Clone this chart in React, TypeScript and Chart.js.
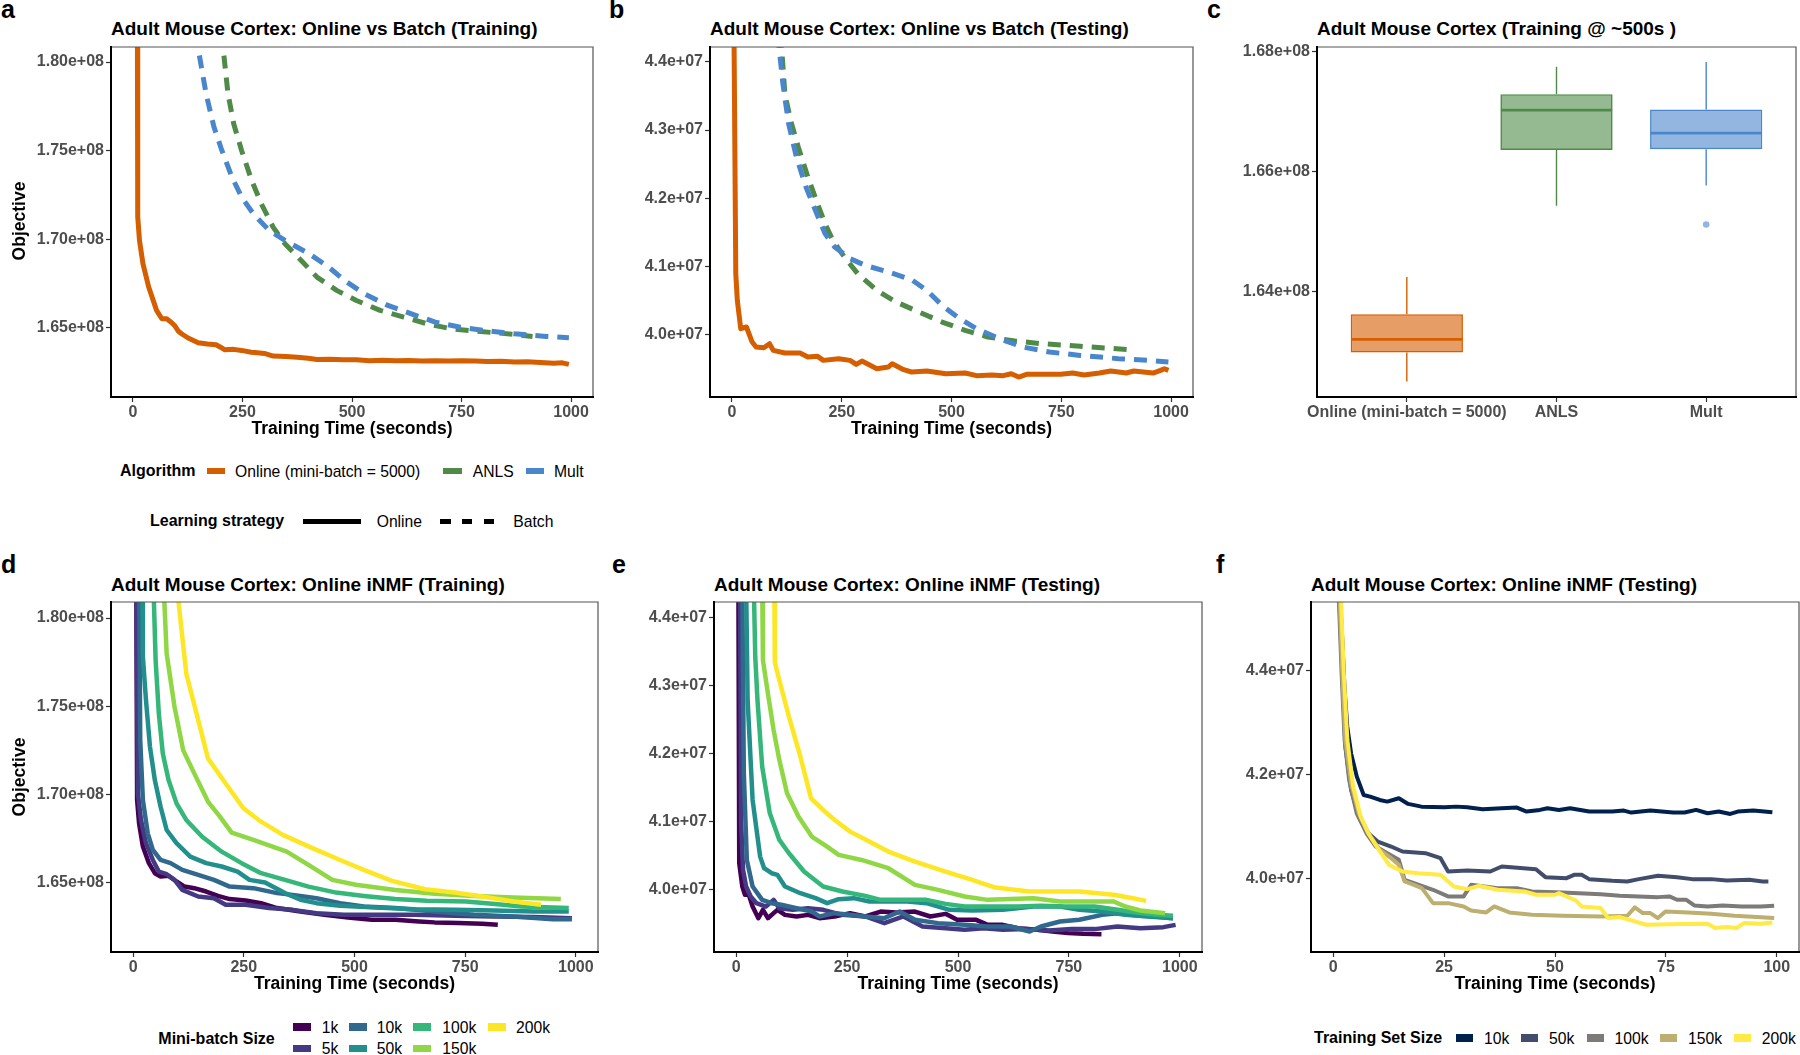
import React, { useEffect, useRef } from "react";
import { Chart, registerables } from "chart.js";
Chart.register(...registerables);

const FONT = '"Liberation Sans", Arial, Helvetica, sans-serif';

// ---------- values (objective in millions) ----------
// Panel a: Online vs Batch (Training)
const A_ONLINE = [[9,230],[10,185],[11,171.25],[15,169.93],[23,168.61],[36,167.30],[54,165.98],[66,165.51],[77,165.51],[88,165.30],[95,165.13],[104,164.80],[111,164.66],[126,164.42],[149,164.15],[170,164.08],[190,164.04],[200,163.90],[209,163.76],[230,163.78],[248,163.72],[270,163.62],[284,163.59],[300,163.55],[320,163.40],[350,163.38],[375,163.34],[400,163.28],[420,163.21],[450,163.22],[480,163.20],[510,163.19],[540,163.14],[570,163.16],[600,163.14],[630,163.15],[660,163.12],[690,163.13],[720,163.12],[750,163.14],[781,163.12],[810,163.10],[840,163.11],[871,163.06],[900,163.08],[930,163.04],[961,163.00],[980,163.02],[995,162.93]];
const A_ANLS = [[203,181.6],[206,180.75],[217,178.21],[230,176.52],[248,175.01],[271,173.32],[293,172.0],[320,170.68],[347,169.74],[384,168.8],[420,167.86],[465,167.11],[510,166.54],[564,165.98],[618,165.6],[672,165.22],[727,164.94],[781,164.81],[835,164.7],[871,164.62],[912,164.51]];
const A_MULT = [[144,181.6],[149,180.75],[167,178.21],[185,176.33],[203,175.01],[226,173.51],[248,172.38],[275,171.43],[311,170.49],[347,169.93],[402,169.18],[447,168.42],[483,167.67],[528,166.92],[582,166.26],[645,165.70],[690,165.32],[745,165.04],[799,164.85],[871,164.66],[943,164.51],[995,164.44]];

// Panel b: Online vs Batch (Testing)
const B_ONLINE = [[4,45],[8.7,40.891],[12.2,40.5],[20,40.083],[33,40.108],[46,39.887],[55,39.814],[72.5,39.804],[85.6,39.863],[94,39.765],[120.5,39.726],[155,39.726],[173,39.667],[195,39.677],[208,39.618],[243,39.643],[269,39.618],[283,39.559],[296,39.608],[330,39.496],[356,39.52],[365,39.569],[391,39.481],[409,39.447],[444,39.462],[487,39.422],[531,39.432],[557,39.393],[592,39.403],[618,39.393],[636,39.422],[653,39.373],[671,39.413],[706,39.413],[749,39.413],[776,39.432],[802,39.403],[837,39.432],[863,39.462],[898,39.432],[915,39.462],[959,39.432],[976,39.471],[985,39.496],[994,39.471]];
const B_ANLS = [[110,44.4],[113.5,44.17],[120.5,43.535],[133.6,43.143],[151,42.752],[172.9,42.311],[194.8,41.92],[212,41.626],[229.7,41.38],[256,41.136],[286.5,40.891],[330,40.646],[374,40.475],[426,40.328],[478.6,40.181],[531,40.059],[583,39.96],[644.5,39.902],[705.7,39.863],[793,39.824],[906.5,39.775]];
const B_MULT = [[105,44.4],[108,44.17],[116,43.68],[129,43.094],[146.7,42.605],[168.6,42.164],[190,41.821],[212,41.479],[234,41.283],[269,41.111],[304,41.013],[356,40.916],[409,40.803],[443.7,40.646],[478.6,40.426],[513.5,40.254],[557,40.083],[609.6,39.936],[662,39.814],[723,39.74],[793,39.691],[880,39.643],[950,39.618],[994,39.594]];

// Panel c: box plots at ~500 s
const C_GROUPS = ["Online (mini-batch = 5000)", "ANLS", "Mult"];
const C_MIN = [162.489, 165.426, 165.766];
const C_Q1 = [162.974, 166.36, 166.372];
const C_MED = [163.192, 167.024, 166.639];
const C_Q3 = [163.615, 167.292, 167.036];
const C_MAX = [164.234, 167.749, 167.828];
const C_OUTLIERS = [[3, 165.113]];

// Panel d: Online iNMF (Training) by mini-batch size
const D_1K = [[7,183],[9,169.68],[13.4,168.36],[22,167.04],[35.6,166.1],[49,165.53],[62,165.34],[80,165.38],[98,165.06],[116,164.77],[138,164.68],[165,164.49],[191.5,164.24],[218,164.06],[254,163.98],[289,163.83],[325,163.55],[378,163.36],[432,163.17],[485,163.02],[539,162.89],[592,162.89],[645.6,162.79],[681,162.74],[735,162.7],[788,162.66],[823.7,162.6]];
const D_5K = [[7,183],[10.7,170.06],[17.8,168.55],[29,167.23],[44.5,166.28],[58,165.62],[75.7,165.47],[93.5,165.15],[111,164.58],[147,164.21],[182.5,164.11],[209,163.74],[254,163.74],[307,163.55],[360.6,163.45],[414,163.26],[476,163.17],[547.6,163.17],[636.7,163.17],[725.7,163.11],[814.8,163.08],[905,163.04],[991,162.98]];
const D_10K = [[13.4,183],[16,173.08],[22,169.68],[33,167.79],[44.5,166.85],[62,166.28],[84.6,166.1],[111,165.72],[147,165.43],[182.5,165.15],[218,164.77],[271.6,164.68],[325,164.4],[360.6,164.3],[414,164.11],[467.5,163.83],[521,163.64],[592,163.55],[681,163.36],[770,163.17],[859,163.08],[948,162.92],[991,162.92]];
const D_50K = [[20.5,183],[22,177.79],[29,175.34],[38,172.7],[49,170.81],[62,169.3],[75.7,167.98],[98,167.23],[129,166.47],[165,166.1],[200,165.91],[236,165.62],[262.7,165.15],[298,165.0],[343,164.4],[378,164.02],[414,163.83],[467.5,163.68],[547.6,163.59],[636.7,163.49],[725.7,163.45],[814.8,163.42],[905,163.36],[984,163.36]];
const D_100K = [[44.5,183],[50.8,177.6],[58,174.58],[67,172.32],[80,170.81],[98,169.49],[120,168.55],[156,167.6],[200,166.75],[245,166.1],[289,165.53],[343,165.15],[396,164.77],[458.6,164.43],[521,164.24],[592,164.06],[663,163.96],[752,163.92],[824,163.77],[877,163.64],[984,163.55]];
const D_150K = [[66.8,183],[75.7,177.98],[93.5,174.96],[113,172.51],[138,171.19],[169,169.59],[196,168.74],[222.6,167.83],[271.6,167.42],[347,166.75],[396,166.0],[450,165.15],[503,164.87],[592,164.58],[681,164.36],[770,164.24],[859,164.15],[966,164.06]];
const D_200K = [[93.5,183],[120,176.85],[147,174.21],[169,172.04],[209,170.62],[249,169.21],[289,168.45],[338,167.7],[414,166.85],[467.5,166.28],[521,165.72],[583,165.11],[659,164.62],[726,164.43],[788,164.21],[859,163.92],[921.5,163.74]];

// Panel e: Online iNMF (Testing) by mini-batch size
const E_1K = [[5,44.5],[6.9,40.387],[13.8,40.044],[19.8,39.922],[28.4,39.922],[37,39.75],[50,39.578],[60.3,39.701],[71.5,39.578],[84.4,39.652],[93,39.701],[110,39.627],[136,39.603],[162,39.627],[187.8,39.578],[222,39.603],[256.7,39.652],[291,39.603],[325.6,39.676],[360,39.662],[403,39.676],[437.6,39.603],[472,39.642],[498,39.554],[541,39.554],[567,39.48],[601,39.48],[635.7,39.431],[678.7,39.407],[713,39.382],[747.6,39.358],[782,39.348],[823.4,39.343]];
const E_5K = [[8.6,44.5],[11.2,40.975],[15.5,40.29],[22.4,40.044],[32.7,39.897],[45.6,39.799],[67,39.75],[84.4,39.848],[97,39.725],[127.5,39.701],[162,39.725],[196,39.701],[239.4,39.627],[291,39.603],[334,39.505],[377,39.603],[420,39.456],[472,39.431],[515,39.407],[558,39.431],[601,39.407],[653,39.417],[704.6,39.397],[756,39.417],[808,39.417],[859.6,39.456],[911,39.431],[963,39.446],[990.5,39.48]];
const E_10K = [[13.8,44.5],[17.2,41.711],[24,40.436],[37,40.044],[58.6,39.848],[80,39.799],[101.6,39.775],[136,39.725],[170.5,39.676],[187.8,39.603],[222,39.652],[256.7,39.627],[291,39.603],[334,39.578],[368.7,39.676],[403,39.554],[454.8,39.505],[515,39.48],[567,39.456],[618,39.456],[661.5,39.382],[687,39.456],[730,39.529],[773.5,39.554],[825,39.627],[859.6,39.652],[911,39.613],[946,39.603],[984.5,39.578]];
const E_50K = [[22.4,44.5],[25.8,42.789],[37,41.319],[54,40.485],[63,40.314],[80,40.24],[93,40.216],[110,40.044],[144.7,39.946],[179,39.873],[205,39.799],[231,39.858],[265,39.873],[300,39.824],[343,39.824],[386,39.824],[429,39.799],[480.6,39.701],[532,39.691],[601,39.701],[670,39.75],[730,39.75],[773.5,39.701],[825,39.676],[877,39.627],[928.5,39.603],[984.5,39.578]];
const E_100K = [[39.6,44.5],[43,43.426],[48,42.789],[58.6,41.809],[75.8,41.123],[97.3,40.731],[119,40.535],[153,40.265],[196,40.044],[239.4,39.971],[291,39.907],[325.6,39.848],[377,39.848],[429,39.848],[472,39.789],[515,39.75],[567,39.75],[635.7,39.75],[687,39.76],[739,39.75],[808,39.75],[859.6,39.701],[902.7,39.662],[946,39.627],[984.5,39.613]];
const E_150K = [[58.6,44.5],[60.3,43.377],[71.5,42.887],[84.4,42.348],[97.3,41.907],[114.6,41.417],[140.4,41.074],[170.5,40.78],[205,40.633],[231,40.51],[282.5,40.436],[343,40.314],[403,40.069],[455,39.995],[515,39.897],[567,39.848],[670,39.873],[730,39.824],[816.5,39.824],[851,39.824],[877,39.75],[911,39.691],[967,39.652]];
const E_200K = [[86,44.5],[87,43.353],[97.3,43.083],[119,42.544],[144.7,41.956],[168.8,41.343],[196,41.172],[222,41.025],[256.7,40.853],[300,40.706],[343,40.559],[403,40.412],[472,40.265],[532,40.142],[584,40.029],[661.5,39.971],[773.5,39.971],[851,39.922],[894,39.873],[924,39.833]];

// Panel f: Online iNMF (Testing) by training set size
const F_10K = [[1.46,45.53],[2.06,44.57],[2.58,43.617],[3.18,42.916],[4.04,42.405],[5.33,41.959],[6.87,41.608],[8.33,41.576],[10.5,41.512],[12.2,41.48],[14.8,41.544],[16.9,41.436],[19.9,41.384],[25.1,41.372],[27.7,41.384],[30.2,41.372],[33.7,41.333],[37.97,41.352],[41.4,41.365],[43.6,41.289],[46.6,41.321],[48.3,41.352],[50.9,41.321],[53.4,41.352],[57.7,41.289],[62.9,41.289],[65.5,41.308],[67.2,41.27],[71.5,41.308],[76.6,41.27],[79.2,41.27],[81.8,41.321],[84.4,41.257],[86.9,41.289],[89.5,41.244],[91.2,41.289],[94.7,41.308],[99,41.276]];
const F_50K = [[1.3,45.53],[2.06,43.936],[2.75,42.533],[4.04,41.703],[5.76,41.193],[7.9,40.874],[10.05,40.715],[13.06,40.619],[15.6,40.523],[20.8,40.491],[24.2,40.396],[25.9,40.14],[30.2,40.159],[35.4,40.14],[38,40.236],[45.7,40.185],[47.85,40.032],[52.6,40.013],[54.3,40.077],[56,40.077],[57.7,39.994],[62.9,39.962],[66.3,39.949],[68.9,39.994],[73.2,40.057],[77.5,40.032],[80.9,39.994],[85.2,39.994],[88.7,39.968],[93.8,39.981],[96.8,39.949],[98.1,39.949]];
const F_100K = [[1.2,45.53],[1.9,43.936],[2.58,42.66],[3.6,41.895],[5.3,41.257],[7.5,40.874],[9.6,40.619],[12.2,40.491],[14.8,40.364],[16.1,39.981],[18.2,39.917],[22.5,39.79],[25.9,39.662],[29.4,39.662],[31.1,39.885],[37.1,39.821],[41.4,39.821],[44.8,39.758],[51.7,39.738],[60.3,39.706],[64.6,39.675],[73.2,39.649],[75.8,39.662],[77.5,39.598],[79.6,39.598],[81.4,39.49],[84.4,39.47],[87.8,39.49],[92.1,39.47],[96.4,39.47],[99.4,39.483]];
const F_150K = [[1.4,45.53],[2.06,43.936],[2.75,42.66],[4.04,41.831],[5.76,41.257],[7.9,40.874],[10.5,40.555],[13.06,40.396],[14.8,40.268],[16.1,39.949],[18.2,39.885],[20,39.821],[22.5,39.534],[25.9,39.534],[29.4,39.47],[31.1,39.394],[34.5,39.356],[36.3,39.47],[39.7,39.356],[44.8,39.311],[51.7,39.292],[60.3,39.279],[66.3,39.292],[68,39.451],[69.8,39.343],[71.5,39.343],[73.2,39.247],[74.9,39.375],[80,39.356],[85.2,39.33],[90.4,39.292],[95.5,39.266],[99.4,39.247]];
const F_200K = [[1.7,45.53],[2.4,43.936],[3.2,42.66],[4.5,41.767],[6.2,41.193],[7.9,40.874],[10.05,40.587],[12.6,40.268],[15.6,40.14],[19.1,40.108],[24.2,40.077],[27.2,39.853],[30.2,39.802],[32.8,39.866],[37.1,39.79],[43.1,39.758],[45.7,39.694],[50,39.694],[50.9,39.726],[54.7,39.585],[56,39.47],[60.3,39.439],[62,39.247],[64.6,39.266],[67.2,39.202],[70.6,39.12],[78.4,39.132],[84.4,39.139],[86.1,39.056],[88.7,39.075],[90.9,39.056],[92.6,39.151],[96.4,39.139],[99,39.164]];

// ---------- ticks ----------
const X_TICKS_1000 = [0, 250, 500, 750, 1000];
const X_LABELS_1000 = ["0", "250", "500", "750", "1000"];
const X_TICKS_100 = [0, 25, 50, 75, 100];
const X_LABELS_100 = ["0", "25", "50", "75", "100"];
const Y_TICKS_TRAIN = [165, 170, 175, 180];
const Y_LABELS_TRAIN = ["1.65e+08", "1.70e+08", "1.75e+08", "1.80e+08"];
const Y_TICKS_TEST = [40, 41, 42, 43, 44];
const Y_LABELS_TEST = ["4.0e+07", "4.1e+07", "4.2e+07", "4.3e+07", "4.4e+07"];
const Y_TICKS_BOX = [164, 166, 168];
const Y_LABELS_BOX = ["1.64e+08", "1.66e+08", "1.68e+08"];
const Y_TICKS_F = [40, 42, 44];
const Y_LABELS_F = ["4.0e+07", "4.2e+07", "4.4e+07"];

// ---------- legend entries & colours ----------
const ALGORITHMS = ["Online (mini-batch = 5000)", "ANLS", "Mult"];
const ALGO_COLORS = ["#D55E00", "#4F8A48", "#4A86CC"];
const ALGO_FILLS = ["rgba(213,94,0,0.6)", "rgba(79,138,72,0.6)", "rgba(74,134,204,0.6)"];
const MINIBATCH = ["1k", "5k", "10k", "50k", "100k", "150k", "200k"];
const VIRIDIS = ["#440154", "#443A83", "#31688E", "#21908C", "#35B779", "#8FD744", "#FDE725"];
const TRAINSET = ["10k", "50k", "100k", "150k", "200k"];
const CIVIDIS = ["#00204D", "#414D6B", "#7C7B78", "#BCAF6F", "#FFEA46"];

const M = 1e6;
const DASH = [13, 9];

// ---------- chart helpers ----------
const framePlugin = {
  id: "frame",
  afterDraw(chart: any) {
    const { ctx, chartArea: a } = chart;
    ctx.save();
    ctx.lineCap = "square";
    ctx.strokeStyle = "#555555";
    ctx.lineWidth = 1.2;
    ctx.beginPath();
    ctx.moveTo(a.left, a.top);
    ctx.lineTo(a.right, a.top);
    ctx.lineTo(a.right, a.bottom);
    ctx.stroke();
    ctx.strokeStyle = "#000000";
    ctx.lineWidth = 2;
    ctx.beginPath();
    ctx.moveTo(a.left, a.top);
    ctx.lineTo(a.left, a.bottom);
    ctx.lineTo(a.right, a.bottom);
    ctx.stroke();
    ctx.restore();
  },
};

function axisOpts(kind: "x" | "y", min: number, max: number, ticks: number[], labels: string[], fixed: number, scale = 1) {
  const vals = ticks.map((t) => t * scale);
  return {
    type: "linear",
    min,
    max,
    offset: false,
    afterBuildTicks: (ax: any) => {
      ax.ticks = vals.map((v) => ({ value: v }));
    },
    afterFit: (ax: any) => {
      if (kind === "x") ax.height = fixed;
      else ax.width = fixed;
    },
    grid: { drawOnChartArea: false, drawTicks: true, tickLength: 5, tickWidth: 1.2, tickColor: "#333333", color: "#333333", offset: false },
    border: { display: false },
    ticks: {
      autoSkip: false,
      maxRotation: 0,
      minRotation: 0,
      padding: kind === "x" ? 1 : 2,
      color: "#4D4D4D",
      font: { family: FONT, size: 16, weight: "bold" },
      callback: (v: number) => {
        const i = vals.indexOf(v);
        return i >= 0 ? labels[i] : "";
      },
    },
  };
}

type Geo = { PT: number; PR: number; AXW: number; AXH: number };

function lineConfig(g: Geo, p: any) {
  const n = p.series.length;
  return {
    type: "line",
    data: {
      datasets: p.series.map((s: any, i: number) => ({
        label: s.label,
        data: s.pts.map((d: number[]) => ({ x: d[0], y: d[1] * M })),
        borderColor: s.color,
        borderWidth: p.width,
        borderDash: s.dash || [],
        borderJoinStyle: "round",
        borderCapStyle: "butt",
        pointRadius: 0,
        pointHoverRadius: 0,
        tension: 0,
        fill: false,
        order: n - i,
        clip: 0,
      })),
    },
    options: {
      responsive: false,
      animation: false,
      events: [],
      layout: { padding: { top: g.PT, right: g.PR, left: 0, bottom: 0 } },
      plugins: { legend: { display: false }, tooltip: { enabled: false } },
      scales: {
        x: axisOpts("x", p.xMin, p.xMax, p.xTicks, p.xLabels, g.AXH),
        y: axisOpts("y", p.yMin * M, p.yMax * M, p.yTicks, p.yLabels, g.AXW, M),
      },
    },
    plugins: [framePlugin],
  };
}

const boxPlugin = {
  id: "boxWhiskers",
  afterDatasetsDraw(chart: any) {
    const { ctx } = chart;
    const xs = chart.scales.x;
    const ys = chart.scales.y;
    const meta = chart.getDatasetMeta(0);
    ctx.save();
    ctx.beginPath();
    const a = chart.chartArea;
    ctx.rect(a.left, a.top, a.right - a.left, a.bottom - a.top);
    ctx.clip();
    C_GROUPS.forEach((_, i) => {
      const x = xs.getPixelForValue(i + 1);
      const half = meta.data[i].width / 2;
      const py = (v: number) => ys.getPixelForValue(v * M);
      ctx.strokeStyle = ALGO_COLORS[i];
      ctx.lineWidth = 1.4;
      ctx.beginPath();
      ctx.moveTo(x, py(C_Q3[i]));
      ctx.lineTo(x, py(C_MAX[i]));
      ctx.moveTo(x, py(C_Q1[i]));
      ctx.lineTo(x, py(C_MIN[i]));
      ctx.stroke();
      ctx.lineWidth = 2.8;
      ctx.beginPath();
      ctx.moveTo(x - half + 0.5, py(C_MED[i]));
      ctx.lineTo(x + half - 0.5, py(C_MED[i]));
      ctx.stroke();
    });
    ctx.restore();
  },
};

function boxConfig(g: Geo) {
  const xAx: any = axisOpts("x", 0.4, 3.6, [1, 2, 3], C_GROUPS, g.AXH);
  return {
    type: "bar",
    data: {
      datasets: [
        {
          type: "bar",
          data: C_GROUPS.map((_, i) => ({ x: i + 1, y: [C_Q1[i] * M, C_Q3[i] * M] })),
          backgroundColor: ALGO_FILLS,
          borderColor: ALGO_COLORS,
          borderWidth: 1.6,
          borderSkipped: false,
          barPercentage: 0.75,
          categoryPercentage: 1,
          order: 2,
        },
        {
          type: "scatter",
          data: C_OUTLIERS.map((d) => ({ x: d[0], y: d[1] * M })),
          pointRadius: 3.3,
          pointBackgroundColor: "rgba(74,134,204,0.6)",
          pointBorderWidth: 0,
          showLine: false,
          order: 1,
        },
      ],
    },
    options: {
      responsive: false,
      animation: false,
      events: [],
      layout: { padding: { top: g.PT, right: g.PR, left: 0, bottom: 0 } },
      plugins: { legend: { display: false }, tooltip: { enabled: false } },
      scales: {
        x: xAx,
        y: axisOpts("y", 162.23 * M, 168.08 * M, Y_TICKS_BOX, Y_LABELS_BOX, g.AXW, M),
      },
    },
    plugins: [framePlugin, boxPlugin],
  };
}

function ChartBox({ plot, build }: { plot: { L: number; T: number; R: number; B: number }; build: (g: Geo) => any }) {
  const ref = useRef<HTMLCanvasElement>(null);
  const PT = 12;
  const AXW = 110;
  const AXH = 40;
  const PR = Math.max(1, Math.min(12, 1800 - plot.R));
  const w = plot.R - plot.L + AXW + PR;
  const h = plot.B - plot.T + PT + AXH;
  useEffect(() => {
    const ch = new Chart(ref.current as HTMLCanvasElement, build({ PT, PR, AXW, AXH }) as any);
    return () => ch.destroy();
  }, []);
  return (
    <canvas
      ref={ref}
      width={w}
      height={h}
      style={{ position: "absolute", left: plot.L - AXW, top: plot.T - PT, width: w, height: h }}
    />
  );
}

// ---------- HTML text helpers ----------
function Txt({ x, y, s, b = false, c = "#000", a = "start", t }: any) {
  const tx = a === "middle" ? "translateX(-50%)" : a === "end" ? "translateX(-100%)" : "none";
  return (
    <div
      style={{
        position: "absolute",
        left: x,
        top: y - 0.8465 * s,
        fontSize: s,
        lineHeight: `${s}px`,
        fontWeight: b ? 700 : 400,
        color: c,
        whiteSpace: "nowrap",
        transform: tx,
        fontFamily: FONT,
      }}
    >
      {t}
    </div>
  );
}

function VTxt({ cx, cy, s, t }: any) {
  return (
    <div
      style={{
        position: "absolute",
        left: cx,
        top: cy,
        fontSize: s,
        lineHeight: `${s}px`,
        fontWeight: 700,
        whiteSpace: "nowrap",
        transform: "translate(-50%,-50%) rotate(-90deg)",
        fontFamily: FONT,
      }}
    >
      {t}
    </div>
  );
}

function Bar({ x1, x2, y, h, c }: any) {
  return <div style={{ position: "absolute", left: x1, top: y - h / 2, width: x2 - x1, height: h, background: c }} />;
}

const TRAIN = {
  xMin: -50, xMax: 1050, xTicks: X_TICKS_1000, xLabels: X_LABELS_1000,
  yTicks: Y_TICKS_TRAIN, yLabels: Y_LABELS_TRAIN,
};
const TEST = {
  xMin: -50, xMax: 1050, xTicks: X_TICKS_1000, xLabels: X_LABELS_1000,
  yTicks: Y_TICKS_TEST, yLabels: Y_LABELS_TEST,
};

const PLOT_A = { L: 111, T: 47, R: 593, B: 397 };
const PLOT_B = { L: 710, T: 47, R: 1193, B: 397 };
const PLOT_C = { L: 1317, T: 47, R: 1799, B: 397 };
const PLOT_D = { L: 111, T: 602, R: 598, B: 952 };
const PLOT_E = { L: 714, T: 602, R: 1202, B: 952 };
const PLOT_F = { L: 1311, T: 602, R: 1799, B: 952 };

export default function App() {
  useEffect(() => {
    document.body.style.margin = "0";
  }, []);

  const algoSeries = (pts: any[]) =>
    pts.map((p, i) => ({ label: ALGORITHMS[i], pts: p, color: ALGO_COLORS[i], dash: i === 0 ? [] : DASH }));

  const T = 19; // title size
  const AT = 17.5; // axis title size
  const LT = 16; // legend title size
  const LL = 15.7; // legend label size

  const mbX = [292.7, 348.7, 413.3, 487.7];
  const mbLab = [321.7, 376.7, 442.3, 516];
  const tsKey = [1455.6, 1520.7, 1586.5, 1660, 1733.9];
  const tsLab = [1484, 1549, 1614.5, 1688, 1761.8];

  return (
    <div style={{ position: "absolute", left: 0, top: 0, width: 1800, height: 1055, overflow: "hidden", background: "#ffffff", fontFamily: FONT }}>
      {/* panel letters */}
      <Txt x={1} y={18.3} s={25} b t="a" />
      <Txt x={609} y={18.3} s={25} b t="b" />
      <Txt x={1207} y={18.3} s={25} b t="c" />
      <Txt x={1} y={573.3} s={25} b t="d" />
      <Txt x={612} y={573.3} s={25} b t="e" />
      <Txt x={1216} y={573.3} s={25} b t="f" />

      {/* titles */}
      <Txt x={111} y={35} s={T} b t="Adult Mouse Cortex: Online vs Batch (Training)" />
      <Txt x={710} y={35} s={T} b t="Adult Mouse Cortex: Online vs Batch (Testing)" />
      <Txt x={1317} y={35} s={T} b t="Adult Mouse Cortex (Training @ ~500s )" />
      <Txt x={111} y={591} s={T} b t="Adult Mouse Cortex: Online iNMF (Training)" />
      <Txt x={714} y={591} s={T} b t="Adult Mouse Cortex: Online iNMF (Testing)" />
      <Txt x={1311} y={591} s={T} b t="Adult Mouse Cortex: Online iNMF (Testing)" />

      {/* charts */}
      <ChartBox plot={PLOT_A} build={(g) => lineConfig(g, { ...TRAIN, yMin: 161.09, yMax: 180.85, width: 5, series: algoSeries([A_ONLINE, A_ANLS, A_MULT]) })} />
      <ChartBox plot={PLOT_B} build={(g) => lineConfig(g, { ...TEST, yMin: 39.08, yMax: 44.22, width: 5, series: algoSeries([B_ONLINE, B_ANLS, B_MULT]) })} />
      <ChartBox plot={PLOT_C} build={(g) => boxConfig(g)} />
      <ChartBox
        plot={PLOT_D}
        build={(g) =>
          lineConfig(g, {
            ...TRAIN, yMin: 161.06, yMax: 180.91, width: 4.5,
            series: [D_1K, D_5K, D_10K, D_50K, D_100K, D_150K, D_200K].map((p, i) => ({ label: MINIBATCH[i], pts: p, color: VIRIDIS[i] })),
          })
        }
      />
      <ChartBox
        plot={PLOT_E}
        build={(g) =>
          lineConfig(g, {
            ...TEST, yMin: 39.08, yMax: 44.235, width: 4.5,
            series: [E_1K, E_5K, E_10K, E_50K, E_100K, E_150K, E_200K].map((p, i) => ({ label: MINIBATCH[i], pts: p, color: VIRIDIS[i] })),
          })
        }
      />
      <ChartBox
        plot={PLOT_F}
        build={(g) =>
          lineConfig(g, {
            xMin: -5, xMax: 105, xTicks: X_TICKS_100, xLabels: X_LABELS_100,
            yTicks: Y_TICKS_F, yLabels: Y_LABELS_F, yMin: 38.597, yMax: 45.307, width: 4,
            series: [F_10K, F_50K, F_100K, F_150K, F_200K].map((p, i) => ({ label: TRAINSET[i], pts: p, color: CIVIDIS[i] })),
          })
        }
      />

      {/* axis titles */}
      <VTxt cx={20.2} cy={221} s={AT} t="Objective" />
      <VTxt cx={20.2} cy={777} s={AT} t="Objective" />
      <Txt x={352} y={435} s={AT} b a="middle" t="Training Time (seconds)" />
      <Txt x={951.5} y={435} s={AT} b a="middle" t="Training Time (seconds)" />
      <Txt x={354.5} y={990} s={AT} b a="middle" t="Training Time (seconds)" />
      <Txt x={958} y={990} s={AT} b a="middle" t="Training Time (seconds)" />
      <Txt x={1555} y={990} s={AT} b a="middle" t="Training Time (seconds)" />

      {/* legend: Algorithm */}
      <Txt x={120} y={477} s={LT} b t="Algorithm" />
      <Bar x1={207.3} x2={225} y={471.3} h={6} c={ALGO_COLORS[0]} />
      <Txt x={235} y={477} s={LL} t={ALGORITHMS[0]} />
      <Bar x1={443.3} x2={461.7} y={471.3} h={6} c={ALGO_COLORS[1]} />
      <Txt x={472.7} y={477} s={LL} t={ALGORITHMS[1]} />
      <Bar x1={526} x2={544.3} y={471.3} h={6} c={ALGO_COLORS[2]} />
      <Txt x={554} y={477} s={LL} t={ALGORITHMS[2]} />

      {/* legend: Learning strategy */}
      <Txt x={150} y={527} s={LT} b t="Learning strategy" />
      <Bar x1={303.3} x2={360.7} y={521} h={5} c="#000" />
      <Txt x={376.7} y={527} s={LL} t="Online" />
      <Bar x1={440} x2={450.7} y={521} h={5} c="#000" />
      <Bar x1={461.7} x2={472.4} y={521} h={5} c="#000" />
      <Bar x1={483.6} x2={494.3} y={521} h={5} c="#000" />
      <Txt x={513.3} y={527} s={LL} t="Batch" />

      {/* legend: Mini-batch Size */}
      <Txt x={158.3} y={1044.3} s={LT} b t="Mini-batch Size" />
      {MINIBATCH.map((lab, i) => {
        const col = Math.floor(i / 2);
        const row = i % 2;
        const ky = row === 0 ? 1027 : 1048.7;
        const by = row === 0 ? 1033.3 : 1054.5;
        return (
          <React.Fragment key={lab}>
            <Bar x1={mbX[col]} x2={mbX[col] + 18} y={ky} h={7.3} c={VIRIDIS[i]} />
            <Txt x={mbLab[col]} y={by} s={LL} t={lab} />
          </React.Fragment>
        );
      })}

      {/* legend: Training Set Size */}
      <Txt x={1314} y={1044} s={LT} b t="Training Set Size" />
      {TRAINSET.map((lab, i) => (
        <React.Fragment key={lab}>
          <Bar x1={tsKey[i]} x2={tsKey[i] + 17} y={1038} h={7.3} c={CIVIDIS[i]} />
          <Txt x={tsLab[i]} y={1044} s={LL} t={lab} />
        </React.Fragment>
      ))}
    </div>
  );
}
